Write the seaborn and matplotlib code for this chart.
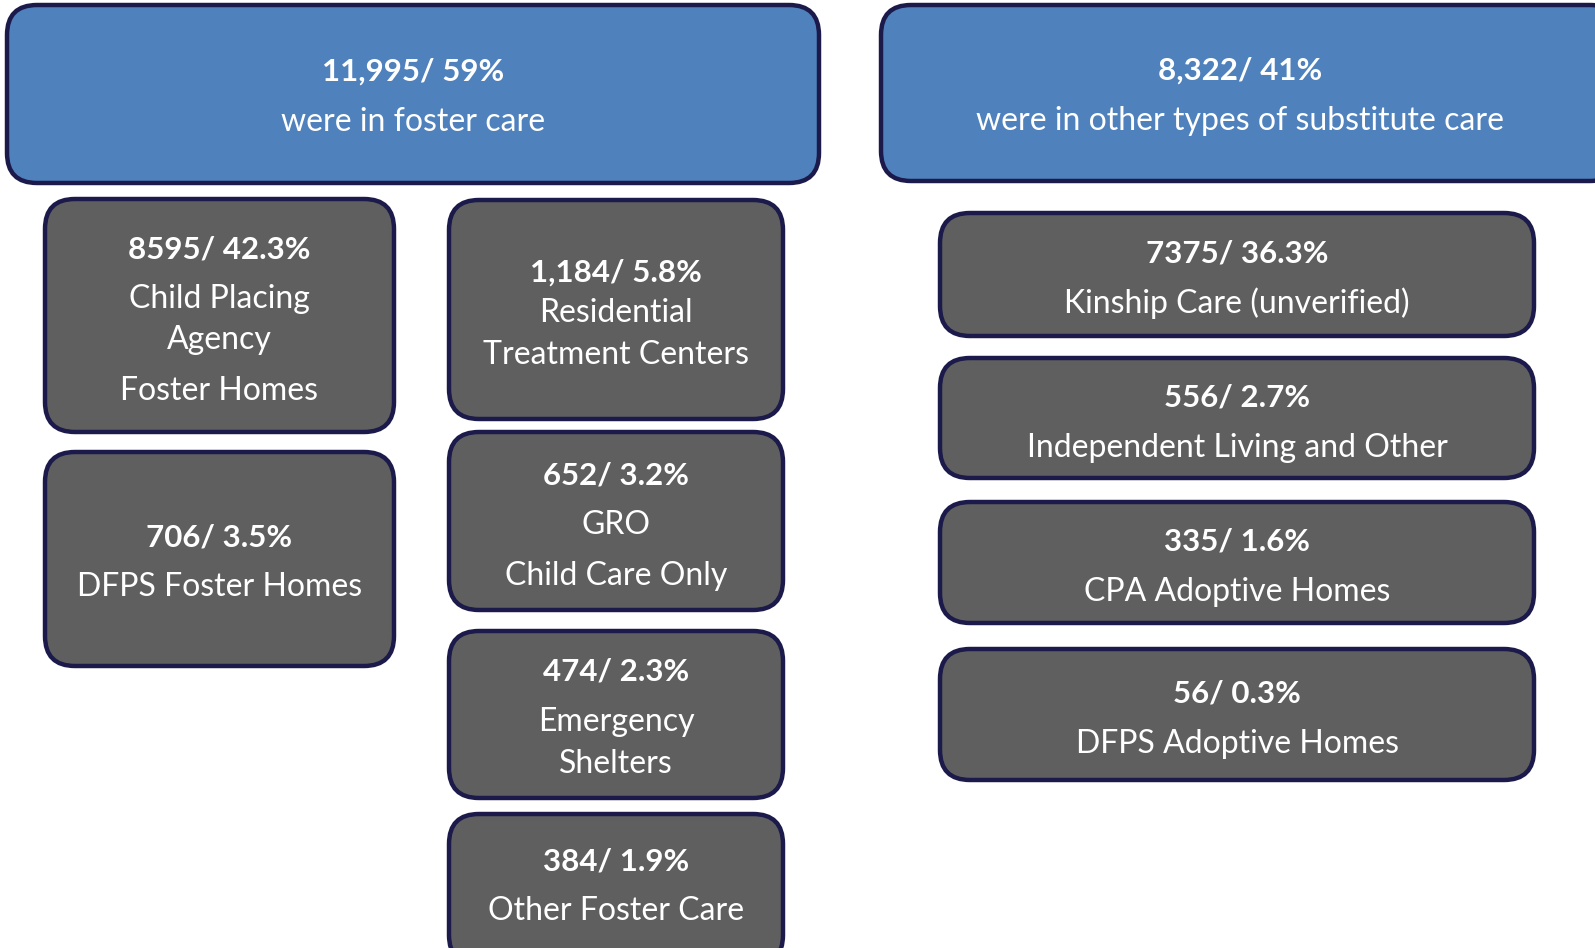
import matplotlib.pyplot as plt
import seaborn as sns
from matplotlib.patches import FancyBboxPatch

# figures as shown in the chart
counts = ["11,995", "8,322",
          "8595", "706",
          "1,184", "652", "474", "384",
          "7375", "556", "335", "56"]
pcts = ["59%", "41%",
        "42.3%", "3.5%",
        "5.8%", "3.2%", "2.3%", "1.9%",
        "36.3%", "2.7%", "1.6%", "0.3%"]
labels = [["were in foster care"], ["were in other types of substitute care"],
          ["Child Placing", "Agency", "Foster Homes"], ["DFPS Foster Homes"],
          ["Residential", "Treatment Centers"], ["GRO", "Child Care Only"],
          ["Emergency", "Shelters"], ["Other Foster Care"],
          ["Kinship Care (unverified)"], ["Independent Living and Other"],
          ["CPA Adoptive Homes"], ["DFPS Adoptive Homes"]]
is_total = [True, True] + [False] * 10

# layout: box (x0, y0, x1, y1) in pixels, and y of each text line
boxes = [(7, 5, 819, 183), (881, 5, 1620, 181),
         (45, 199, 394, 432), (45, 452, 394, 666),
         (449, 200, 783, 419), (449, 432, 783, 610),
         (449, 631, 783, 798), (449, 814, 783, 965),
         (940, 213, 1534, 336), (940, 358, 1534, 478),
         (940, 502, 1534, 623), (940, 649, 1534, 780)]
line_y = [[69, 119], [68, 118],
          [246, 296, 337, 388], [534, 584],
          [270, 310, 352], [472, 522, 573],
          [669, 719, 761], [858, 908],
          [250, 300], [395, 445], [539, 589], [691, 741]]

sns.set_theme(style="white")
plt.rcParams["font.family"] = ["Lato", "DejaVu Sans"]

fig = plt.figure(figsize=(15.95, 9.48), dpi=100)
ax = fig.add_axes([0, 0, 1, 1])
ax.set_xlim(0, 1595)
ax.set_ylim(948, 0)
ax.axis("off")

for i in range(len(counts)):
    x0, y0, x1, y1 = boxes[i]
    face = "#4f81bd" if is_total[i] else "#5f5f5f"
    ax.add_patch(FancyBboxPatch((x0, y0), x1 - x0, y1 - y0,
                                boxstyle="round,pad=0,rounding_size=30",
                                facecolor=face, edgecolor="#1b1a4a",
                                linewidth=3.2, clip_on=False))
    cx = (x0 + min(x1, 1600)) / 2 if i != 1 else 1240
    lines = [counts[i] + "/ " + pcts[i]] + labels[i]
    for j, (txt, ty) in enumerate(zip(lines, line_y[i])):
        bold = j == 0
        ax.text(cx, ty + 3, txt, ha="center", va="center", color="white",
                fontsize=22.5 if bold else 23,
                fontweight="bold" if bold else "normal")

fig.savefig("out.png", dpi=100)
